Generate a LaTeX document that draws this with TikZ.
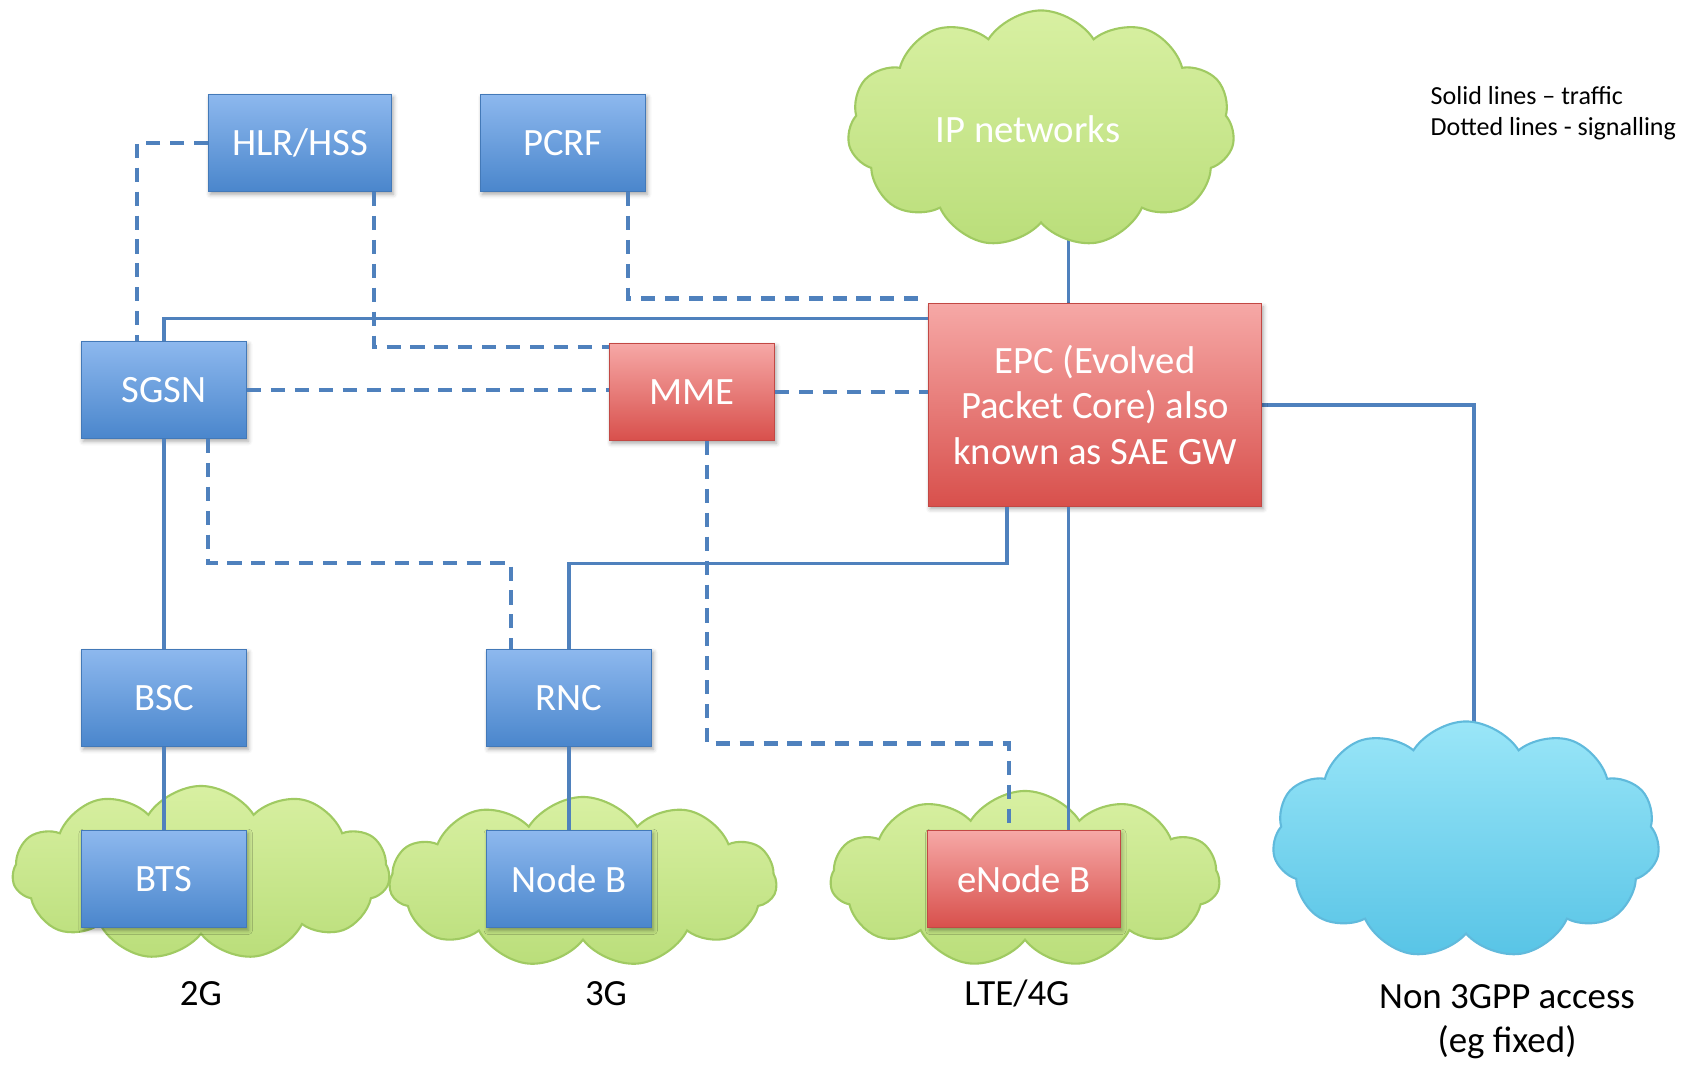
\documentclass[tikz,border=0pt]{standalone}
\usepackage{fontspec}
\setmainfont{Carlito}
\definecolor{linkblue}{RGB}{79,129,189}
\definecolor{boxbluetop}{RGB}{141,184,238}
\definecolor{boxbluebot}{RGB}{74,134,204}
\definecolor{boxredtop}{RGB}{246,168,166}
\definecolor{boxredbot}{RGB}{216,80,76}
\definecolor{cloudgreentop}{RGB}{216,240,162}
\definecolor{cloudgreenbot}{RGB}{186,222,122}
\definecolor{cloudgreenedge}{RGB}{160,202,98}
\definecolor{cloudcyantop}{RGB}{154,230,248}
\definecolor{cloudcyanbot}{RGB}{88,196,230}
\definecolor{cloudcyanedge}{RGB}{96,186,220}
\usetikzlibrary{shapes,arrows,positioning,calc,fit,backgrounds,shadows.blur}

\begin{document}
\begin{tikzpicture}[x=0.01cm,y=-0.01cm,
  netbox/.style={rectangle, minimum width=1.65cm, minimum height=0.97cm, inner sep=2pt, text=white,
    font=\fontsize{11}{13}\selectfont, line width=0.3pt,
    blur shadow={shadow xshift=0.5pt, shadow yshift=-0.8pt, shadow blur radius=1.2pt,
      shadow blur extra rounding=0pt, shadow opacity=35}},
  bluebox/.style={netbox, top color=boxbluetop, bottom color=boxbluebot, draw=boxbluebot!90!black},
  redbox/.style={netbox, top color=boxredtop, bottom color=boxredbot, draw=boxredbot!90!black},
  access/.style={cloud, cloud puffs=11, cloud puff arc=115, cloud ignores aspect, line width=0.6pt},
  greencloud/.style={access, draw=cloudgreenedge, top color=cloudgreentop, bottom color=cloudgreenbot},
  cyancloud/.style={access, draw=cloudcyanedge, top color=cloudcyantop, bottom color=cloudcyanbot},
  traffic/.style={draw=linkblue, line width=0.9pt},
  signal/.style={draw=linkblue, line width=1.3pt, dash pattern=on 4pt off 2.8pt},
  caption/.style={font=\fontsize{10.5}{12.5}\selectfont, align=center}]
  \useasboundingbox (0,0) rectangle (1688,1067);

  \node[greencloud, minimum width=3.77cm, minimum height=1.74cm] (cloud2g) at (201,873) {};
  \node[greencloud, minimum width=3.87cm, minimum height=1.70cm] (cloud3g) at (583,882) {};
  \node[greencloud, minimum width=3.89cm, minimum height=1.76cm] (cloudlte) at (1025,879) {};
  \node[cyancloud, minimum width=3.87cm, minimum height=2.37cm] (cloudn3g) at (1466,840) {};
  \node[greencloud, minimum width=3.87cm, minimum height=2.37cm] (ipnet) at (1041,129) {};
  \node[text=white, font=\fontsize{11}{13}\selectfont] (iplabel) at (1028,129) {IP networks};

  \node[bluebox, minimum width=1.83cm] (hlr) at (300,143) {HLR/HSS};
  \node[bluebox] (pcrf) at (563,143) {PCRF};
  \node[bluebox] (sgsn) at (164,390) {SGSN};
  \node[redbox] (mme) at (692,392) {MME};
  \node[redbox, minimum width=3.33cm, minimum height=2.02cm, align=center] (epc) at (1095,405)
    {EPC (Evolved\\Packet Core) also\\known as SAE GW};
  \node[bluebox] (bsc) at (164,698) {BSC};
  \node[bluebox] (rnc) at (569,698) {RNC};
  \node[bluebox] (bts) at (164,879) {BTS};
  \node[bluebox] (nodeb) at (569,879) {Node B};
  \node[redbox, minimum width=1.92cm] (enb) at (1024,879) {eNode B};

  \node[caption] (lbl2g) at (201,994) {2G};
  \node[caption] (lbl3g) at (606,994) {3G};
  \node[caption] (lbllte) at (1017,993) {LTE/4G};
  \node[caption] (lbln3g) at (1507,1022) {Non 3GPP access\\(eg fixed)};
  \node[anchor=north west, align=left, inner sep=0pt, font=\fontsize{7.4}{8.6}\selectfont] (legend)
    at (1430,86) {Solid lines -- traffic\\Dotted lines - signalling};

  \begin{scope}[on background layer]
    \draw[traffic] ([xshift=-0.265cm]epc.north) -- ([xshift=-0.265cm]epc.north |- ipnet.center);
    \draw[traffic] (epc.east) -| ([xshift=0.08cm]cloudn3g.center);
  \end{scope}

  \draw[signal] (hlr.west) -| ([xshift=-0.27cm]sgsn.north);
  \draw[traffic] (sgsn.north) |- ([yshift=-0.15cm]epc.north west);
  \draw[signal] ([xshift=0.74cm]hlr.south) |- ([yshift=-0.04cm]mme.north west);
  \draw[signal] ([xshift=0.65cm]pcrf.south) |- ([yshift=0.05cm]epc.north west);
  \draw[signal] (sgsn.east) -- (sgsn.east -| mme.west);
  \draw[signal] (mme.east) -- (mme.east -| epc.west);
  \draw[traffic] (sgsn) -- (bsc);
  \draw[traffic] (bsc) -- (bts);
  \draw[traffic] (rnc) -- (nodeb);
  \draw[signal] ([xshift=0.44cm]sgsn.south) -- ++(0,-1.24cm) -| ([xshift=-0.58cm]rnc.north);
  \draw[traffic] ([xshift=-0.88cm]epc.south) -- ++(0,-0.57cm) -| (rnc.north);
  \draw[signal] ([xshift=0.15cm]mme.south) -- ++(0,-3.02cm) -| ([xshift=-0.15cm]enb.north);
  \draw[traffic] ([xshift=-0.265cm]epc.south) -- ([xshift=-0.265cm]epc.south |- enb.north);
\end{tikzpicture}
\end{document}
